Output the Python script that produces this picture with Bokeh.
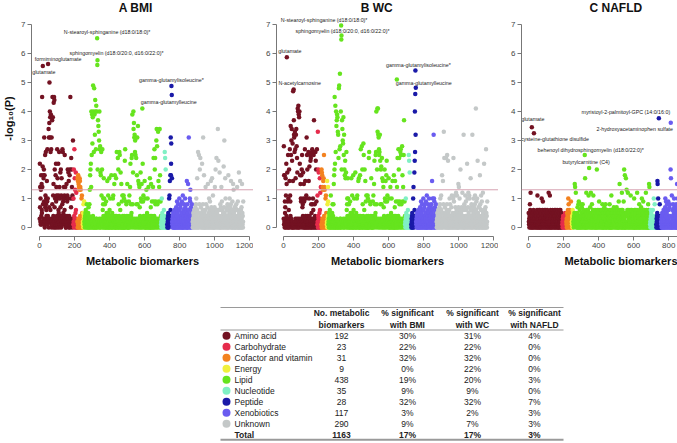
import numpy as np
from bokeh.plotting import figure
from bokeh.layouts import row, column
from bokeh.models import ColumnDataSource, Range1d, FixedTicker, Label, Span, Title
from bokeh.embed import file_html
from bokeh.resources import INLINE
from bokeh.core.properties import value

# ---------------- data ----------------
categories = ["Amino acid", "Carbohydrate", "Cofactor and vitamin", "Energy", "Lipid",
              "Nucleotide", "Peptide", "Xenobiotics", "Unknown"]
n_metabolites = [192, 23, 31, 9, 438, 35, 28, 117, 290]
pct_bmi = [30, 22, 32, 0, 19, 9, 32, 3, 9]
pct_wc = [31, 22, 32, 22, 20, 9, 32, 2, 7]
pct_nafld = [4, 0, 0, 0, 3, 0, 7, 3, 3]
total_pct = [17, 17, 3]          # BMI, WC, NAFLD
cat_colors = ["#731222", "#e62c4c", "#f3821f", "#f0f03c", "#66e41e",
              "#80f0c4", "#1a1aa8", "#6a5cf0", "#c4c8c8"]

x_ticks = [0, 200, 400, 600, 800, 1000, 1200]
y_ticks = [0, 1, 2, 3, 4, 5, 6, 7]
P_THRESHOLD = 0.05

# -log10(P) per metabolite, in tenths:
# '0'-'9' = 0.0-0.9, 'A'-'Z' = 1.0-3.5, 'a'-'z' = 3.6-6.1, '.' = labelled hit (value in hit lists)
CODE = "0123456789ABCDEFGHIJKLMNOPQRSTUVWXYZabcdefghijklmnopqrstuvwxyz"

bmi_amino = "3M7E2A1DI4 1F65jE2L.8 I3H1K9V2I0 2P7B3Q8A64 1G39R1A4.2 3Y0V7ao2eV c6Q2d3R1V0 2b8j1c3B4F h0j2i7K3A0 1I3M9E2B40 R1H3A2M6B5 0Q2E41A3J7 3K0B2H1428 R1Q395A2E1 2B6P13E420 0A3F2149B3 K1A2J3G041 2I0K1j3A27 O1K2E03B1A U2"
bmi_carbohydrate = "1A2K04R3H2 D150J62C31 020"
bmi_cofactor = "2H0G1I3F0E 1D2H0G4E1D 0312A0B150 2"
bmi_energy = "125083419"
bmi_lipid = ("2130415263 0412853102 3150721408 1D2I0K3M1E e0P2d1T0c4 n1e0Q3m2d0 W0i2e1R3g0 3e0.u.K2b1 "
             "Z0X1U3e2R0 S1J0I3Q2B1 2K1R0638A4 0H2A314802 3021940512 1G3015B240 20H1630A12 4120I31025 "
             "130A2B1402 2F13I02410 0H214Q1302 3O10K28014 Q1P0362J10 1F20931B04 2130B1A042 0N2R103921 "
             "82140F3120 2031904B12 1E3M208415 O2P1d380J2 eY2a1V3W0Q U1P2V0O381 I2V180Z3G2 1F03E27140 "
             "2J1A390F21 3f1M092B41 2130G14A20 1402D31250 3A1204E231 0213H04027 2F13049120 13E20O3914 "
             "R0K2O18390 2U1Y3S0812 1X2G390E21 Y2I13904")
bmi_nucleotide = "1203A41520 3102416230 2Q1O40K213 02140"
bmi_peptide = "1032405120 3A1B2G41I6 VIMT.3.H"
bmi_xenobiotics = ("2130415203 1402630512 0317240196 2051830421 3A06124708 1402539120 0B13260481 "
                   "2051A73406 3140G28015 0F263V1402 1A49D30725 0318642")
bmi_unknown = ("2031504126 1305247018 3A1402H615 0Q2150P318 2K14O03712 1502M41608 V1304I2150 2061E30814 "
               "1302714F20 4150A36129 0213G50714 2H0361B402 1504270E13 3K1602O415 0216Y31N04 2140J63180 "
               "1702E41936 4021530L17 2U1504H2A3 0316240718 2104I36015 3A1705248G 1320460913 0F14D25017 "
               "2041730628 1306E24190 4021J50316 1G30426017 30F2514029")

wc_amino = "3S1I2I0957 1H0B2M4F.3 0J291P3A06 2K0G1R3B94 Z1P3U0Y2N1 0T2Gl01.bW V2Q0X1R3H1 W0Y2S1O3J0 f1e2g0d3c1 e0M2I1F3A9 2I1K0P3718 4J2A0F1930 1R2G304A2B 0V3P1K2041 2Q0G3A1L40 3P1N2O0815 0Q2R183A06 1P3b0Q2814 2Q0N3K1920 R3"
wc_carbohydrate = "1B2X04K3J2 0150H62C31 E20"
wc_cofactor = "1K0J2I3E0D 2G1H0P4E1D 0312A0B150 2"
wc_energy = "12G0834E9"
wc_lipid = ("1230524160 0412B53102 3150821408 2F3I0Kj1M0 g0Q2e1Z3b0 d1c0X2W0O1 m2n0R1r3S0 3e0...K2b1 "
            "Y0U1T3c2P0 W1K0I3N2H1 2J1Q0638A4 0H2A314802 3021940512 1H3015B240 20I1630A12 4120J31025 "
            "130A2B1402 2G13H02410 0I214R1302 3S10K28014 T1P0362K10 1G20931B04 2130B1A042 0O2Q103921 "
            "82140H3120 2031904B12 1F3N208415 P2Q1e380K2 fX2f1W3V0R P1Q2W0N381 K2L180O3H2 1G03E27140 "
            "2K1A390G21 3I1N092B41 2130H14A20 1402E31250 3A1204G231 0213I04027 2G13049120 1pE20O3914 "
            "R0K2O18390 2Q1R3P0812 1S2I390E21 P2b13904")
wc_nucleotide = "1203A41520 3102416230 2P1N40J213 02140"
wc_peptide = "1032405120 3A1E2041J6 NeQk.W.3"
wc_xenobiotics = ("2130415203 1402630512 0317240196 2051830421 3A06124708 1402539120 0B13260481 "
                  "2051A73406 3140728015 0G263A1402 W1A4930725 0318642")
wc_unknown = ("2031504126 1305247018 3A1402B615 0I2150G318 2X14O03712 1502O41608 P1304N2150 2061A30814 "
              "1302714B20 4150A3O129 0213B50714 2C0361B402 1504F70E13 3A1602K415 0216731C04 2140W63180 "
              "1702B41936 4021M30A17 2C1504B2A3 0316H40718 2104W36015 3A1705248B 1320f60913 0A14N25017 "
              "2041730I28 1306B24190 4021C50316 1M30426017 30R2514029")

nafld_amino = "5213042816 3C042102.5 1430251063 .241305214 2051342061 B301524036 1420613502 3052A41260 2914035216 0325140632 4102536014 2530C41205 1B42061350 3140526213 0253140625 4102635041 2516032140 3041526302 1620413520 43"
nafld_carbohydrate = "1203241302 1420315203 214"
nafld_cofactor = "2130520416 3A28140625 1302419305 2"
nafld_energy = "214306152"
nafld_lipid = ("21304152F3 E412C53102 3150721408 1928031640 2814053172 0318250461 31420.1H03 2051C36104 "
               "1420635B12 .302417250 C215038142 0361B24053 2140635102 3012K41620 1503216943 2041530612 "
               "3160248105 0425130716 2103852041 4016235102 1350421806 2041630B15 0316250412 3721405163 "
               "1052341702 2406153019 0315F26041 2140536C02 1602431950 K130I25041 H051D42160 2C14053621 "
               "0415230B16 3201645103 1520341A06 2041635102 0316C24051 2150438016 1042531702 3A16205149 "
               "0251436012 2103C52640 1405231806 20F3E051")
nafld_nucleotide = "1203641520 3102416230 2A10408213 02140"
nafld_peptide = "1032405GF0 3A120.4120 81302410"
nafld_xenobiotics = ("2130415203 1402630512 0317A40196 2051830421 3906124708 1402K.H120 0B13260481 "
                     "2051A73406 3140728015 0F263A1402 1A49D30725 0318642")
nafld_unknown = ("2031504126 1305247018 3A1402D615 0E2150F318 2114703712 1502G41608 0130482150 2061E30814 "
                 "1302714B20 4150A36129 0213H50714 2C0361B402 1504270613 3A1602E415 0216031C04 2140I63180 "
                 "1702B41936 4021530F17 2C1504B2A3 0316240718 2104G36015 3A1705248B 1320460913 0A14E25017 "
                 "2041730628 1306B24190 4021C50316 1A30426017 3052514029")

# labelled metabolites (index in plotting order, -log10 P, label)
bmi_hit_index = [18, 48, 328, 330, 752, 754]
bmi_hit_value = [5.57, 5.64, 6.53, 5.77, 4.88, 4.57]
bmi_hit_label = ["glutamate", "formiminoglutamate", "N-stearoyl-sphinganine (d18:0/18:0)*",
                 "sphingomyelin (d18:0/20:0, d16:0/22:0)*", "gamma-glutamylisoleucine*",
                 "gamma-glutamylleucine"]
wc_hit_index = [18, 57, 328, 329, 330, 752, 754]
wc_hit_value = [5.87, 4.76, 6.97, 6.48, 6.62, 5.41, 4.82]
wc_hit_label = ["glutamate", "N-acetylcarnosine", "N-stearoyl-sphinganine (d18:0/18:0)*", "",
                "sphingomyelin (d18:0/20:0, d16:0/22:0)*", "gamma-glutamylisoleucine*",
                "gamma-glutamylleucine"]
nafld_hit_index = [18, 30, 320, 345, 743, 811]
nafld_hit_value = [3.46, 3.25, 2.50, 2.05, 3.77, 3.61]
nafld_hit_label = ["glutamate", "cysteine-glutathione disulfide",
                   "behenoyl dihydrosphingomyelin (d18:0/22:0)*", "butyrylcarnitine (C4)",
                   "myristoyl-2-palmitoyl-GPC (14:0/16:0)", "2-hydroxyacetaminophen sulfate"]

# label placement (screen px offsets from the point) -- layout only
bmi_label_dx = [1, 10, 10, 19, 0, -3]
bmi_label_dy = [6, -5, -6, -7, -6, 7]
wc_label_dx = [3, 6, -17, 0, 1, 3, 8]
wc_label_dy = [-6, -6, -5, 0, -5, -6, -5]
nafld_label_dx = [1, 21, 6, -3, -33, -36]
nafld_label_dy = [-8, 6, -5, -6, -6, 6]

# ---------------- layout constants ----------------
FONT = "Liberation Sans"
PX_PER_UNIT = 0.1752
FIG_H = 270
BORDER_BOTTOM = 34
Y_LO = -0.31
Y_HI = Y_LO + (FIG_H - BORDER_BOTTOM) / 29.0
TITLE_Y = 7.58


def decode(s):
    return [np.nan if c == "." else CODE.index(c) / 10.0 for c in s.replace(" ", "")]


def style_axis(ax):
    ax.axis_line_color = "#777777"
    ax.major_tick_line_color = "#777777"
    ax.minor_tick_line_color = None
    ax.major_tick_out = 4
    ax.major_tick_in = 0
    ax.major_label_text_font = FONT
    ax.major_label_text_font_size = "8px"
    ax.major_label_text_color = "#444444"
    ax.major_label_standoff = 2
    ax.axis_label_text_font = FONT
    ax.axis_label_text_font_style = "bold"
    ax.axis_label_text_font_size = "11px"
    ax.axis_label_text_color = "#111111"


def make_panel(title, title_x, strings, hit_index, hit_value, hit_label, label_dx, label_dy,
               width, border_left, zero_offset_px, ylabel=None, xlabel_right=False):
    frame_w = width - border_left
    x_lo = -zero_offset_px / PX_PER_UNIT
    x_hi = x_lo + frame_w / PX_PER_UNIT
    p = figure(width=width, height=FIG_H, x_range=Range1d(x_lo, x_hi), y_range=Range1d(Y_LO, Y_HI),
               output_backend="svg", toolbar_location=None, min_border=0,
               min_border_left=border_left, min_border_bottom=BORDER_BOTTOM)
    p.outline_line_color = None
    p.xgrid.visible = False
    p.ygrid.visible = False

    p.add_layout(Span(location=-np.log10(P_THRESHOLD), dimension="width",
                      line_color="#d6a3b2", line_width=1))

    start = 0
    for k, s in enumerate(strings):
        ys = np.array(decode(s), dtype=float)
        n = n_metabolites[k]
        if len(ys) != n:
            raise ValueError(f"{title} {categories[k]}: {len(ys)} values, expected {n}")
        for h, v in zip(hit_index, hit_value):
            if start <= h < start + n:
                ys[h - start] = v
        xs = np.arange(start, start + n) + 1
        m = ~np.isnan(ys)
        p.scatter(xs[m], ys[m], size=4.5, color=cat_colors[k], line_color=None)
        start += n

    keep = [i for i, t in enumerate(hit_label) if t]
    src = ColumnDataSource(dict(
        x=[hit_index[i] + 1 for i in keep], y=[hit_value[i] for i in keep],
        text=[hit_label[i] for i in keep], dx=[label_dx[i] for i in keep],
        dy=[label_dy[i] for i in keep]))
    p.text(x="x", y="y", text="text", x_offset="dx", y_offset="dy", source=src,
           text_font=value(FONT), text_font_size="5.3px", text_align="center",
           text_baseline="middle", text_color="#222222")

    p.add_layout(Label(x=title_x, y=TITLE_Y, text=title, text_font=FONT, text_font_style="bold",
                       text_font_size="12px", text_align="center", text_baseline="middle",
                       text_color="#111111"))

    xa = p.xaxis[0]
    ya = p.yaxis[0]
    xa.ticker = FixedTicker(ticks=x_ticks)
    xa.bounds = (x_ticks[0], x_ticks[-1])
    ya.ticker = FixedTicker(ticks=y_ticks)
    ya.bounds = (y_ticks[0], y_ticks[-1])
    style_axis(xa)
    style_axis(ya)
    if not xlabel_right:
        xa.axis_label = "Metabolic biomarkers"
        xa.axis_label_standoff = 4
    else:
        p.add_layout(Title(text="Metabolic biomarkers", align="right", text_font=FONT,
                           text_font_style="bold", text_font_size="11px", standoff=4,
                           text_color="#111111"), "below")
    if ylabel:
        ya.axis_label = ylabel
        ya.axis_label_standoff = 3
    return p


bmi_strings = [bmi_amino, bmi_carbohydrate, bmi_cofactor, bmi_energy, bmi_lipid,
               bmi_nucleotide, bmi_peptide, bmi_xenobiotics, bmi_unknown]
wc_strings = [wc_amino, wc_carbohydrate, wc_cofactor, wc_energy, wc_lipid,
              wc_nucleotide, wc_peptide, wc_xenobiotics, wc_unknown]
nafld_strings = [nafld_amino, nafld_carbohydrate, nafld_cofactor, nafld_energy, nafld_lipid,
                 nafld_nucleotide, nafld_peptide, nafld_xenobiotics, nafld_unknown]

pa = make_panel("A  BMI", 559, bmi_strings, bmi_hit_index, bmi_hit_value, bmi_hit_label,
                bmi_label_dx, bmi_label_dy, width=253, border_left=31, zero_offset_px=8,
                ylabel="-log\u2081\u2080(P)")
pb = make_panel("B  WC", 542, wc_strings, wc_hit_index, wc_hit_value, wc_hit_label,
                wc_label_dx, wc_label_dy, width=245, border_left=23, zero_offset_px=7)
pc = make_panel("C  NAFLD", 508, nafld_strings, nafld_hit_index, nafld_hit_value, nafld_hit_label,
                nafld_label_dx, nafld_label_dy, width=179, border_left=23, zero_offset_px=7,
                xlabel_right=True)

# ---------------- table ----------------
PAGE_W = 677
T_TOP, T_BOTTOM = 270, 443
t = figure(width=PAGE_W, height=T_BOTTOM - T_TOP, x_range=Range1d(0, PAGE_W),
           y_range=Range1d(T_BOTTOM, T_TOP),
           output_backend="svg", toolbar_location=None, min_border=0,
           x_axis_location=None, y_axis_location=None)
t.outline_line_color = None
t.xgrid.visible = False
t.ygrid.visible = False

TX_LEFT, TX_RIGHT = 220, 563
DOT_X, NAME_X = 226, 234
COL_X = [341, 407, 472, 534]
HEAD_Y1, HEAD_Y2 = 312, 324
LINE_TOP, LINE_HEAD = 307, 329.5
ROW_Y0, ROW_H = 335.3, 11.0
TFS = "8.5px"

row_y = [ROW_Y0 + ROW_H * i for i in range(len(categories))]
total_y = ROW_Y0 + ROW_H * len(categories)
line_bottom = total_y + 5

t.segment(x0=TX_LEFT, y0=LINE_TOP, x1=TX_RIGHT, y1=LINE_TOP, line_color="#9a9a9a", line_width=1)
t.segment(x0=TX_LEFT, y0=LINE_HEAD, x1=TX_RIGHT, y1=LINE_HEAD, line_color="#9a9a9a", line_width=1)
t.segment(x0=TX_LEFT, y0=line_bottom, x1=TX_RIGHT, y1=line_bottom, line_color="#9a9a9a", line_width=2)

head1 = ["No. metabolic", "% significant", "% significant", "% significant"]
head2 = ["biomarkers", "with BMI", "with WC", "with NAFLD"]
hsrc = ColumnDataSource(dict(x=COL_X + COL_X, y=[HEAD_Y1] * 4 + [HEAD_Y2] * 4, text=head1 + head2))
t.text(x="x", y="y", text="text", source=hsrc, text_font=value(FONT), text_font_size=TFS,
       text_font_style="bold", text_align="center", text_baseline="middle", text_color="#222222")

rsrc = ColumnDataSource(dict(
    y=row_y, name=categories, color=cat_colors,
    n=[str(v) for v in n_metabolites],
    bmi=[f"{v}%" for v in pct_bmi], wc=[f"{v}%" for v in pct_wc], nafld=[f"{v}%" for v in pct_nafld]))
t.scatter(x=DOT_X, y="y", size=8, color="color", line_color=None, source=rsrc)
t.text(x=NAME_X, y="y", text="name", source=rsrc, text_font=value(FONT), text_font_size=TFS,
       text_align="left", text_baseline="middle", text_color="#222222")
for cx, col in zip(COL_X, ["n", "bmi", "wc", "nafld"]):
    t.text(x=cx, y="y", text=col, source=rsrc, text_font=value(FONT), text_font_size=TFS,
           text_align="center", text_baseline="middle", text_color="#222222")

tsrc = ColumnDataSource(dict(
    x=[NAME_X] + COL_X, y=[total_y] * 5,
    text=["Total", str(sum(n_metabolites))] + [f"{v}%" for v in total_pct],
    align=["left", "center", "center", "center", "center"]))
t.text(x="x", y="y", text="text", source=tsrc, text_font=value(FONT), text_font_size=TFS,
       text_font_style="bold", text_align="align", text_baseline="middle", text_color="#222222")

layout = column(row(pa, pb, pc), t)
open("out.html", "w").write(file_html(layout, INLINE))
